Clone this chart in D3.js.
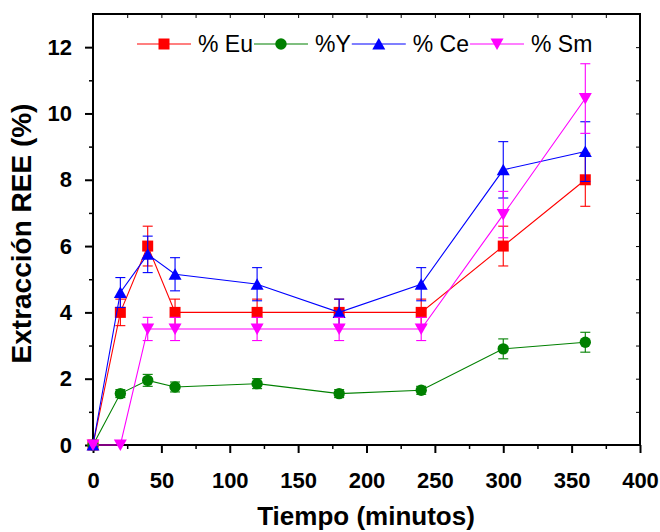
<!DOCTYPE html>
<html>
<head>
<meta charset="utf-8">
<script src="https://cdn.jsdelivr.net/npm/d3@7"></script>
<style>
  html, body { margin: 0; padding: 0; background: #fff; }
  svg { display: block; font-family: Arial, "Liberation Sans", sans-serif; }
</style>
</head>
<body>
<svg id="chart" width="660" height="532"></svg>
<script>
// Sampling times (minutes)
const times = [0, 20, 40, 60, 120, 180, 240, 300, 360];

// Extraction (%) per element and its error
const euVals = [0, 4.0, 6.0, 4.0, 4.0, 4.0, 4.0, 6.0, 8.0];
const euErr  = [0, 0.4, 0.6, 0.4, 0.4, 0.4, 0.4, 0.6, 0.8];
const yVals  = [0, 1.55, 1.95, 1.75, 1.85, 1.55, 1.65, 2.9, 3.1];
const yErr   = [0, 0.12, 0.18, 0.15, 0.15, 0.12, 0.12, 0.3, 0.3];
const ceVals = [0, 4.6, 5.75, 5.15, 4.85, 4.0, 4.85, 8.3, 8.85];
const ceErr  = [0, 0.45, 0.55, 0.5, 0.5, 0.4, 0.5, 0.85, 0.9];
const smVals = [0, 0, 3.5, 3.5, 3.5, 3.5, 3.5, 6.95, 10.45];
const smErr  = [0, 0, 0.35, 0.35, 0.35, 0.35, 0.35, 0.7, 1.05];

const seriesNames = ["% Eu", "%Y", "% Ce", "% Sm"];
const xTicks = [0, 50, 100, 150, 200, 250, 300, 350, 400];
const yTicks = [0, 2, 4, 6, 8, 10, 12];

const series = [
  { name: seriesNames[0], vals: euVals, err: euErr, color: "#ff0000", shape: "square" },
  { name: seriesNames[1], vals: yVals,  err: yErr,  color: "#008000", shape: "circle" },
  { name: seriesNames[2], vals: ceVals, err: ceErr, color: "#0000ff", shape: "up" },
  { name: seriesNames[3], vals: smVals, err: smErr, color: "#ff00ff", shape: "down" }
];

const svg = d3.select("#chart");
const L = 93, R = 640, T = 14, B = 445;

const x = d3.scaleLinear().domain([0, 400]).range([L, R]);
const y = d3.scaleLinear().domain([0, 13]).range([B, T]);

// marker path generator, centred on (0,0)
function markerPath(shape) {
  switch (shape) {
    case "square": return "M-5.5,-5.5H5.5V5.5H-5.5Z";
    case "circle": return d3.symbol(d3.symbolCircle, Math.PI * 5.7 * 5.7)();
    case "up":     return "M0,-6L6.5,5.5L-6.5,5.5Z";
    case "down":   return "M0,6L6.5,-5.5L-6.5,-5.5Z";
  }
}

// ---- frame and axes ----
const tickFont = g => g.selectAll("text")
  .attr("font-size", 22).attr("font-weight", "bold").attr("fill", "#000")
  .attr("font-family", "Arial, 'Liberation Sans', sans-serif");

// minor ticks
svg.append("g").attr("transform", `translate(${L},0)`)
  .call(d3.axisLeft(y).tickValues(d3.range(1, 13, 2)).tickSize(4).tickFormat(""))
  .call(g => g.select(".domain").remove())
  .call(g => g.selectAll("line").attr("stroke-width", 1.5));
svg.append("g").attr("transform", `translate(0,${B})`)
  .call(d3.axisBottom(x).tickValues(d3.range(25, 400, 50)).tickSize(4).tickFormat(""))
  .call(g => g.select(".domain").remove())
  .call(g => g.selectAll("line").attr("stroke-width", 1.5));

// inward ticks on the top and right borders
svg.append("g").attr("transform", `translate(0,${T})`)
  .call(d3.axisTop(x).tickValues(d3.range(25, 400, 25)).tickSize(-4).tickFormat(""))
  .call(g => g.select(".domain").remove())
  .call(g => g.selectAll("line").attr("stroke-width", 1));
svg.append("g").attr("transform", `translate(${R},0)`)
  .call(d3.axisRight(y).tickValues(d3.range(1, 13, 1)).tickSize(-4).tickFormat(""))
  .call(g => g.select(".domain").remove())
  .call(g => g.selectAll("line").attr("stroke-width", 1));

// major ticks + labels
svg.append("g").attr("transform", `translate(${L},0)`)
  .call(d3.axisLeft(y).tickValues(yTicks).tickSize(8).tickPadding(13).tickFormat(d3.format("d")))
  .call(g => g.select(".domain").remove())
  .call(g => g.selectAll("line").attr("stroke-width", 2))
  .call(tickFont);
svg.append("g").attr("transform", `translate(0,${B})`)
  .call(d3.axisBottom(x).tickValues(xTicks).tickSize(8).tickPadding(19).tickFormat(d3.format("d")))
  .call(g => g.select(".domain").remove())
  .call(g => g.selectAll("line").attr("stroke-width", 2))
  .call(tickFont);

// border box
svg.append("rect")
  .attr("x", L).attr("y", T).attr("width", R - L).attr("height", B - T)
  .attr("fill", "none").attr("stroke", "#000").attr("stroke-width", 2);

// ---- series ----
const line = d3.line().x(d => x(d.t)).y(d => y(d.v));

series.forEach(s => {
  const pts = times.map((t, i) => ({ t, v: s.vals[i], e: s.err[i] }));
  const g = svg.append("g");

  g.append("path").datum(pts)
    .attr("d", line).attr("fill", "none")
    .attr("stroke", s.color).attr("stroke-width", 1.1);

  // error bars
  const eb = g.selectAll(".eb").data(pts.filter(p => p.e > 0)).join("g");
  eb.append("line")
    .attr("x1", d => x(d.t)).attr("x2", d => x(d.t))
    .attr("y1", d => y(d.v - d.e)).attr("y2", d => y(d.v + d.e))
    .attr("stroke", s.color).attr("stroke-width", 1.1);
  [-1, 1].forEach(sign => {
    eb.append("line")
      .attr("x1", d => x(d.t) - 5).attr("x2", d => x(d.t) + 5)
      .attr("y1", d => y(d.v + sign * d.e)).attr("y2", d => y(d.v + sign * d.e))
      .attr("stroke", s.color).attr("stroke-width", 1.1);
  });

  g.selectAll(".mk").data(pts).join("path")
    .attr("d", markerPath(s.shape))
    .attr("transform", d => `translate(${x(d.t)},${y(d.v)})`)
    .attr("fill", s.color);
});

// ---- legend ----
const legend = svg.append("g");
let lx = 137;
const ly = 44;
series.forEach(s => {
  legend.append("line")
    .attr("x1", lx).attr("x2", lx + 54).attr("y1", ly).attr("y2", ly)
    .attr("stroke", s.color).attr("stroke-width", 1.1);
  legend.append("path")
    .attr("d", markerPath(s.shape))
    .attr("transform", `translate(${lx + 27},${ly})`)
    .attr("fill", s.color);
  const txt = legend.append("text")
    .attr("x", lx + 61).attr("y", ly + 8)
    .attr("font-size", 23).attr("fill", "#000")
    .text(s.name);
  lx = lx + 61 + txt.node().getComputedTextLength() + 1;
});

// ---- axis titles ----
svg.append("text")
  .attr("x", 366).attr("y", 525)
  .attr("text-anchor", "middle")
  .attr("font-size", 26).attr("font-weight", "bold")
  .text("Tiempo (minutos)");

svg.append("text")
  .attr("transform", `translate(31,${(T + B) / 2 + 4}) rotate(-90)`)
  .attr("text-anchor", "middle")
  .attr("font-size", 28).attr("font-weight", "bold")
  .text("Extracción REE (%)");
</script>
</body>
</html>
